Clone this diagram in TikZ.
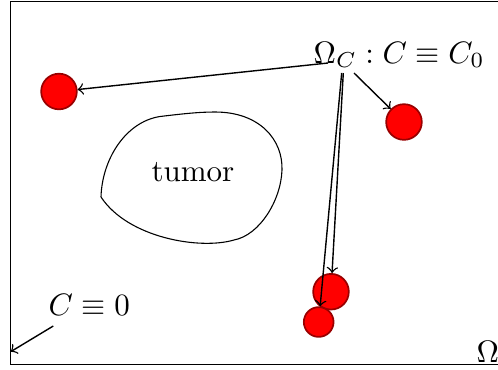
\documentclass[tikz,border=0pt]{standalone}
\usepackage{amsmath}
\begin{document}
\begin{tikzpicture}[x=0.3226pt,y=-0.3226pt,
  cell/.style={circle,fill=red,draw=red!60!black,line width=0.55pt,inner sep=0pt,minimum size=11.5pt},
  small/.style={cell,minimum size=9.6pt},
  lab/.style={anchor=base west,inner sep=0pt},
  conn/.style={->,line width=0.45pt}]
\useasboundingbox (0,0) rectangle (498,370);
\draw[line width=0.55pt] (10.5,1.5) rectangle (540,364.5);
% tumor outline
\draw[line width=0.35pt] (101,197) .. controls (102,160) and (125,122) .. (160,116.5)
  .. controls (185,113.5) and (200,112) .. (215,112)
  .. controls (260,112) and (283,140) .. (282,170)
  .. controls (281,200) and (260,235) .. (234,240)
  .. controls (200,250) and (128,238) .. (101,197);
\node[lab] (tum) at (151,181) {tumor};
% cells
\node[cell] (c1) at (59,91.5) {};
\node[cell] (c2) at (404,122) {};
\node[cell] (c3) at (331,291.7) {};
\node[small] (c4) at (318.7,322) {};
% labels
\node[lab] (omc) at (313,63.3) {$\Omega_C : C\equiv C_0$};
\node[lab] (zero) at (48,315) {$C\equiv 0$};
\node[lab] (om) at (476,362.7) {$\Omega$};
% connector starts
\coordinate (s1) at (328,63);
\coordinate (s2) at (354,73);
\coordinate (s3) at (343.3,73);
\coordinate (s4) at (341.7,73);
\coordinate (z1) at (53.3,326);
\coordinate (z2) at (10.7,351.7);
\draw[conn] (s1) -- (c1);
\draw[conn] (s2) -- (c2);
\draw[conn] (s3) -- (c3);
\draw[conn] (s4) -- (c4);
\draw[conn] (z1) -- (z2);
\end{tikzpicture}
\end{document}
